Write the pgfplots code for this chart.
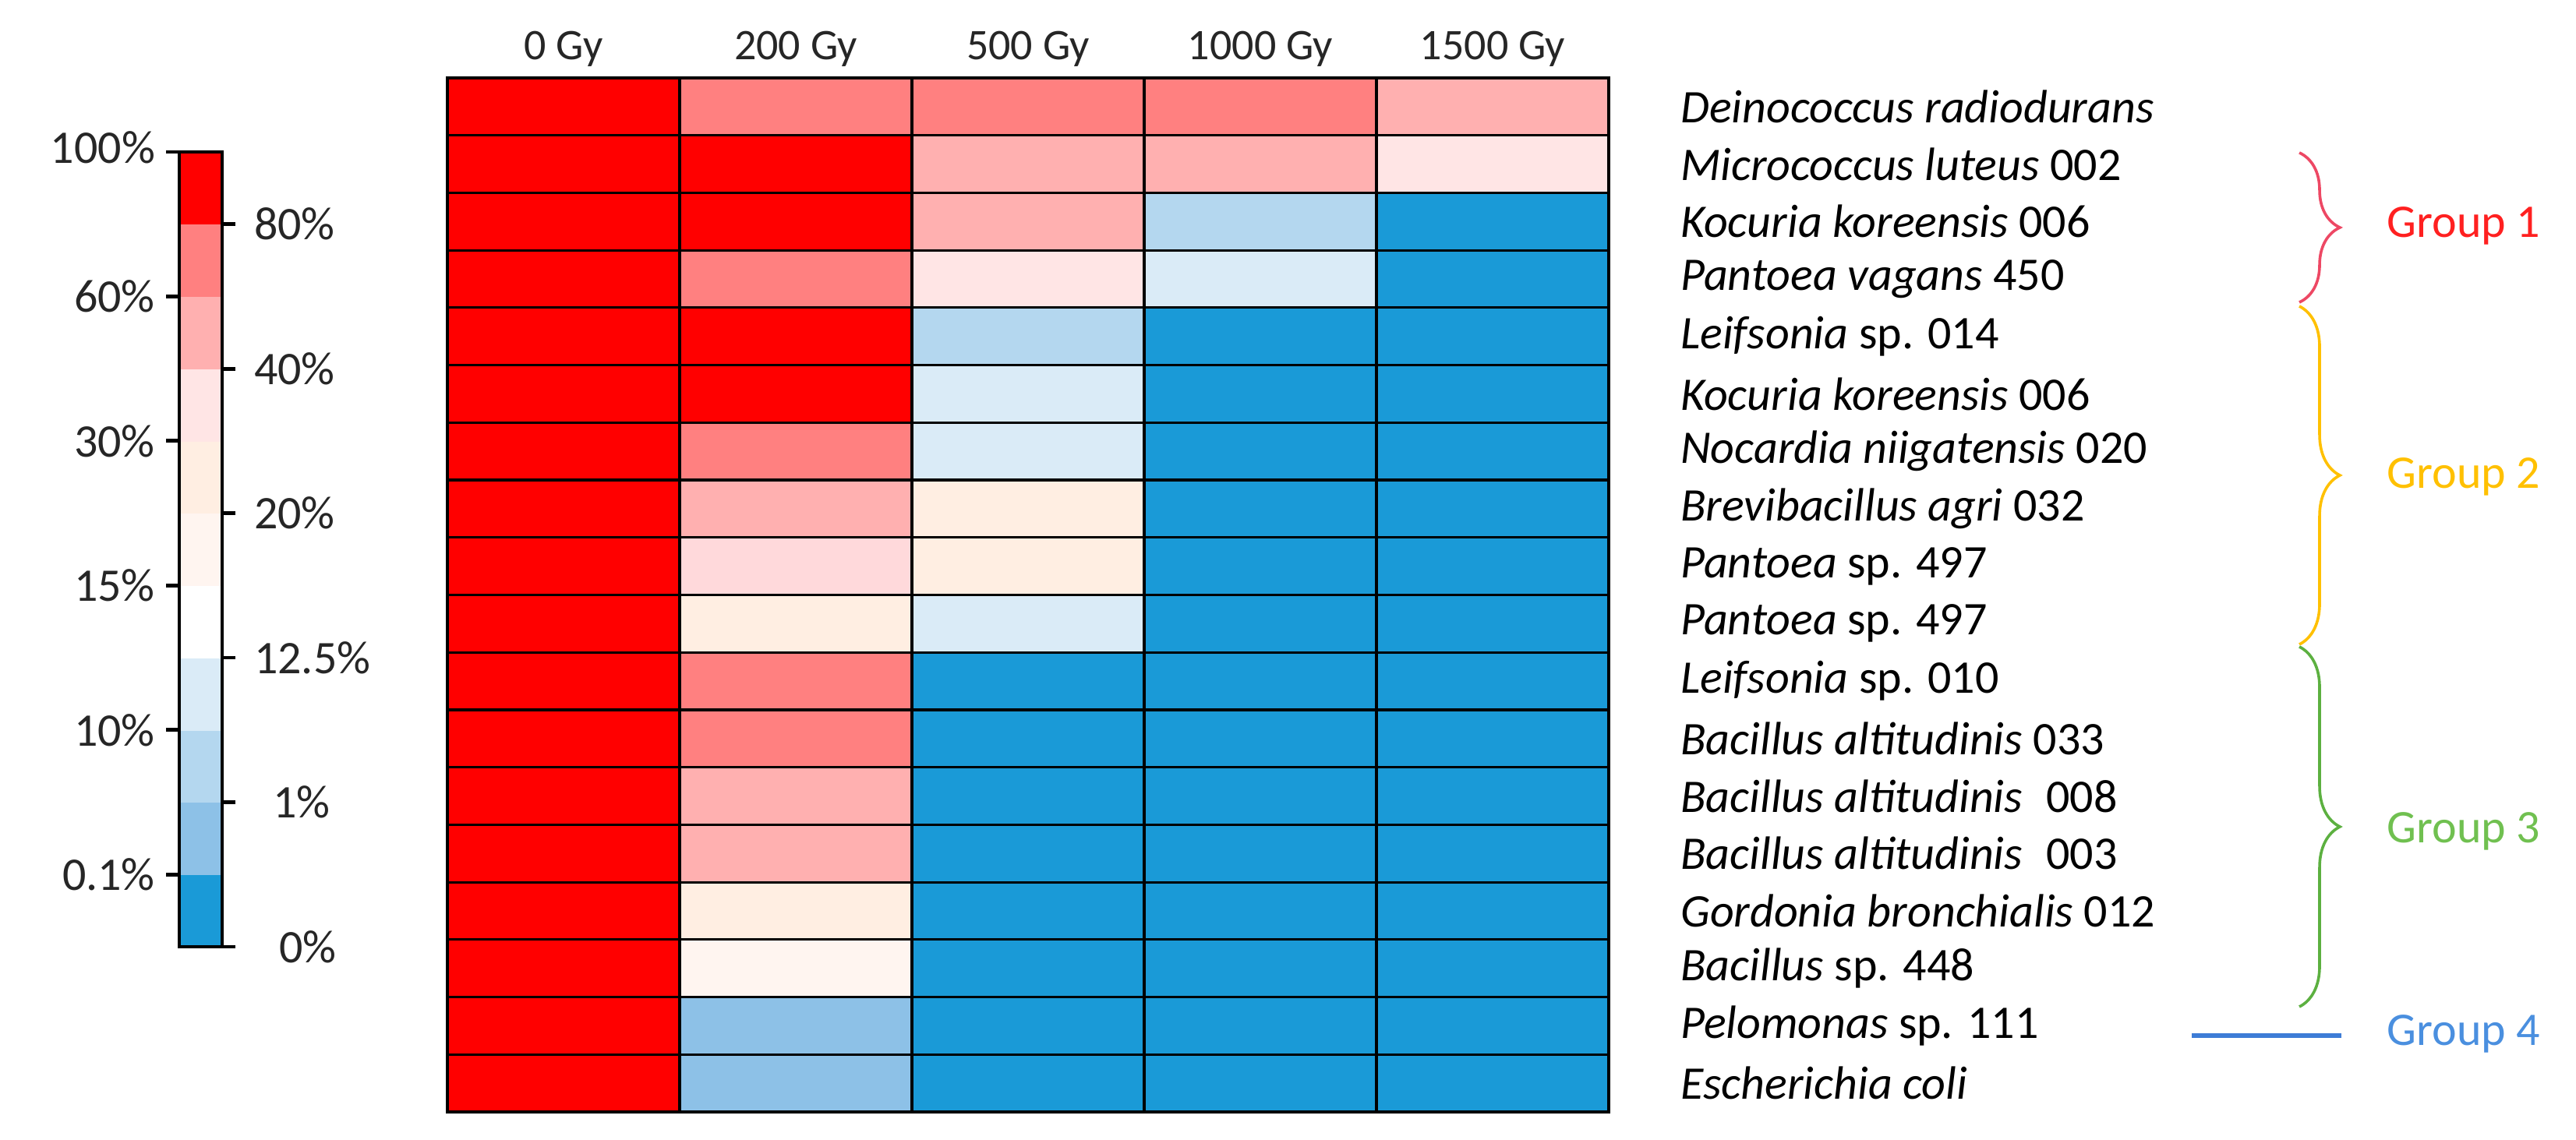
\documentclass[border=0pt]{standalone}
\usepackage{pgfplots}
\pgfplotsset{compat=1.18}
\usepackage{fontspec}
\setmainfont{Carlito}
\usetikzlibrary{decorations.pathreplacing}
\definecolor{gonebrace}{RGB}{237,72,100}
\definecolor{gonetext}{RGB}{255,32,32}
\definecolor{gtwo}{RGB}{255,192,0}
\definecolor{gthreebrace}{RGB}{92,176,64}
\definecolor{gthreetext}{RGB}{112,192,80}
\definecolor{gfourline}{RGB}{61,124,214}
\definecolor{gfourtext}{RGB}{74,143,223}
\pgfplotsset{colormap={surv}{rgb255=(26,154,215) rgb255=(141,193,231) rgb255=(180,215,239) rgb255=(218,235,247) rgb255=(255,255,255) rgb255=(255,245,240) rgb255=(255,238,226) rgb255=(255,229,229) rgb255=(255,176,176) rgb255=(255,128,128) rgb255=(255,0,0) rgb255=(255,217,219)}}
\pgfplotstableread{
x y c
0 0 10
1 0 9
2 0 9
3 0 9
4 0 8
0 1 10
1 1 10
2 1 8
3 1 8
4 1 7
0 2 10
1 2 10
2 2 8
3 2 2
4 2 0
0 3 10
1 3 9
2 3 7
3 3 3
4 3 0
0 4 10
1 4 10
2 4 2
3 4 0
4 4 0
0 5 10
1 5 10
2 5 3
3 5 0
4 5 0
0 6 10
1 6 9
2 6 3
3 6 0
4 6 0
0 7 10
1 7 8
2 7 6
3 7 0
4 7 0
0 8 10
1 8 11
2 8 6
3 8 0
4 8 0
0 9 10
1 9 6
2 9 3
3 9 0
4 9 0
0 10 10
1 10 9
2 10 0
3 10 0
4 10 0
0 11 10
1 11 9
2 11 0
3 11 0
4 11 0
0 12 10
1 12 8
2 12 0
3 12 0
4 12 0
0 13 10
1 13 8
2 13 0
3 13 0
4 13 0
0 14 10
1 14 6
2 14 0
3 14 0
4 14 0
0 15 10
1 15 5
2 15 0
3 15 0
4 15 0
0 16 10
1 16 1
2 16 0
3 16 0
4 16 0
0 17 10
1 17 1
2 17 0
3 17 0
4 17 0
}\heat
\pgfplotstableread{
x y c
0 0.5 0
1 0.5 0
0 1.5 1
1 1.5 1
0 2.5 2
1 2.5 2
0 3.5 3
1 3.5 3
0 4.5 4
1 4.5 4
0 5.5 5
1 5.5 5
0 6.5 6
1 6.5 6
0 7.5 7
1 7.5 7
0 8.5 8
1 8.5 8
0 9.5 9
1 9.5 9
0 10.5 10
1 10.5 10
}\cbar
\begin{document}
\begin{tikzpicture}
\useasboundingbox (0,0) rectangle (826.25pt,365.75pt);
% heatmap
\begin{axis}[
  at={(143.5pt,9pt)}, anchor=south west,
  scale only axis, width=372.5pt, height=331.75pt,
  xmin=-0.5, xmax=4.5, ymin=-0.5, ymax=17.5, y dir=reverse,
  enlargelimits=false, axis on top, clip=false,
  colormap name=surv, colormap access=direct,
  xtick={0,...,4}, xticklabels={0 Gy,200 Gy,500 Gy,1000 Gy,1500 Gy},
  xticklabel pos=upper,
  ytick={0,...,17},
  yticklabels={
    \textit{Deinococcus radiodurans},
    \textit{Micrococcus luteus} 002,
    \textit{Kocuria koreensis} 006,
    \textit{Pantoea vagans} 450,
    \textit{Leifsonia} sp. 014,
    \textit{Kocuria koreensis} 006,
    \textit{Nocardia niigatensis} 020,
    \textit{Brevibacillus agri} 032,
    \textit{Pantoea} sp. 497,
    \textit{Pantoea} sp. 497,
    \textit{Leifsonia} sp. 010,
    \textit{Bacillus altitudinis} 033,
    \textit{Bacillus altitudinis}\hspace{0.5em}008,
    \textit{Bacillus altitudinis}\hspace{0.5em}003,
    \textit{Gordonia bronchialis} 012,
    \textit{Bacillus} sp. 448,
    \textit{Pelomonas} sp. 111,
    \textit{Escherichia coli}},
  yticklabel pos=right,
  minor xtick={0.5,1.5,2.5,3.5},
  minor ytick={0.5,1.5,...,16.5},
  xminorgrids=true, yminorgrids=true,
  minor grid style={black, line width=0.8pt},
  major tick length=0pt, minor tick length=0pt,
  axis line style={black, line width=0.9pt},
  x tick label style={font=\fontsize{14pt}{16pt}\selectfont, text=black!85},
  yticklabel style={anchor=west, xshift=19.5pt, font=\fontsize{15pt}{18pt}\selectfont, text=black},
]
\addplot[matrix plot*, mesh/cols=5, point meta=explicit] table[x=x, y=y, meta=c]{\heat};
\end{axis}
% colorbar, left ticks
\begin{axis}[
  at={(57.5pt,62pt)}, anchor=south west,
  scale only axis, width=13.75pt, height=255pt,
  xmin=-0.5, xmax=1.5, ymin=0, ymax=11, enlargelimits=false, axis on top,
  colormap name=surv, colormap access=direct,
  xtick=\empty,
  ytick={1,3,5,7,9,11},
  yticklabels={0.1\%\hspace{4.5pt},10\%\hspace{6pt},15\%\hspace{6pt},30\%\hspace{6pt},60\%\hspace{6pt},\raisebox{3pt}{100\%}},
  ytick pos=left, yticklabel pos=left, tick align=outside,
  major tick length=4.25pt, tick style={black, line width=1.2pt},
  axis line style={black, line width=0.8pt},
  yticklabel style={font=\fontsize{15pt}{17pt}\selectfont, text=black!85},
]
\addplot[matrix plot*, mesh/cols=2, point meta=explicit] table[x=x, y=y, meta=c]{\cbar};
\end{axis}
% colorbar, right ticks
\begin{axis}[
  at={(57.5pt,62pt)}, anchor=south west,
  scale only axis, width=13.75pt, height=255pt,
  xmin=-0.5, xmax=1.5, ymin=0, ymax=11, enlargelimits=false,
  xtick=\empty,
  ytick={0,2,4,6,8,10}, yticklabels={\hspace{8pt}0\%,\hspace{6pt}1\%,12.5\%,20\%,40\%,80\%},
  ytick pos=right, yticklabel pos=right, tick align=outside,
  major tick length=4.25pt, tick style={black, line width=1.2pt},
  axis line style={black, line width=0.8pt},
  yticklabel style={anchor=west, xshift=2.5pt, font=\fontsize{15pt}{17pt}\selectfont, text=black!85},
]
\end{axis}
% group annotations
\draw[decorate, decoration={brace, amplitude=13pt}, gonebrace, line width=0.9pt] (737.5pt,316.75pt) -- (737.5pt,268.75pt);
\draw[decorate, decoration={brace, amplitude=13pt}, gtwo, line width=0.9pt] (737.5pt,267.5pt) -- (737.5pt,159pt);
\draw[decorate, decoration={brace, amplitude=13pt}, gthreebrace, line width=0.9pt] (737.5pt,158.25pt) -- (737.5pt,42.75pt);
\draw[gfourline, line width=1.5pt] (703pt,33.5pt) -- (751pt,33.5pt);
\begin{scope}[every node/.style={anchor=west, inner sep=0pt, font=\fontsize{15pt}{18pt}\selectfont}]
\node[text=gonetext] at (765.5pt,293.25pt) {Group 1};
\node[text=gtwo] at (765.5pt,212.75pt) {Group 2};
\node[text=gthreetext] at (765.5pt,99pt) {Group 3};
\node[text=gfourtext] at (765.5pt,34pt) {Group 4};
\end{scope}
\end{tikzpicture}
\end{document}
